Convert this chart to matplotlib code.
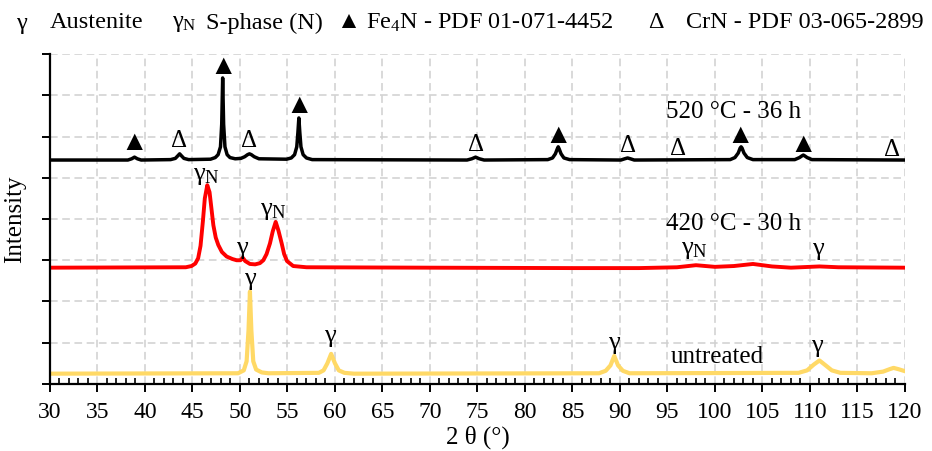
import matplotlib
matplotlib.use("Agg")
from matplotlib import pyplot as plt

plt.rcParams['font.family'] = ['Liberation Serif', 'DejaVu Serif']
plt.rcParams['mathtext.fontset'] = 'custom'
plt.rcParams['mathtext.rm'] = 'Liberation Serif'
plt.rcParams['mathtext.it'] = 'Liberation Serif:italic'

# 520 °C - 36 h (black)
x_520 = [30, 38.2, 38.6, 38.9, 39.2, 39.6, 42.7, 43.2, 43.45, 43.65, 43.85, 44.1, 44.6,
         46.9, 47.4, 47.7, 47.95, 48.08, 48.18, 48.28, 48.42, 48.65, 48.95, 49.5,
         50.1, 50.5, 50.8, 51.0, 51.2, 51.5, 52.0, 54.9, 55.4, 55.75, 55.98, 56.1,
         56.2, 56.3, 56.42, 56.65, 57.0, 57.6, 73.9, 74.4, 74.8, 75.2, 75.7, 82.4,
         82.9, 83.2, 83.4, 83.5, 83.6, 83.8, 84.1, 84.7, 90.1, 90.5, 90.8, 91.1, 91.5,
         101.6, 102.1, 102.45, 102.65, 102.75, 102.85, 103.05, 103.4, 104.0, 108.4,
         108.9, 109.15, 109.3, 109.45, 109.7, 110.2, 120]
y_520 = [5.43, 5.43, 5.46, 5.50, 5.46, 5.43, 5.44, 5.47, 5.53, 5.58, 5.53, 5.47, 5.44,
         5.45, 5.49, 5.56, 5.75, 6.3, 7.42, 6.3, 5.75, 5.56, 5.49, 5.46,
         5.47, 5.51, 5.56, 5.58, 5.56, 5.51, 5.46, 5.45, 5.48, 5.56, 5.75, 6.1,
         6.45, 6.1, 5.75, 5.56, 5.48, 5.44, 5.43, 5.46, 5.50, 5.46, 5.43, 5.44,
         5.48, 5.58, 5.70, 5.75, 5.70, 5.58, 5.48, 5.44, 5.43, 5.46, 5.48, 5.46, 5.43,
         5.44, 5.49, 5.60, 5.72, 5.75, 5.72, 5.60, 5.49, 5.44, 5.44,
         5.49, 5.53, 5.55, 5.53, 5.49, 5.44, 5.43]

# 420 °C - 30 h (red)
x_420 = [30, 44.3, 44.9, 45.3, 45.6, 45.85, 46.1, 46.3, 46.56, 46.8, 47.0, 47.2, 47.45,
         47.72, 48.1, 48.6, 49.2, 49.65, 50.05, 50.3, 50.55, 51.05, 51.6, 52.1, 52.46,
         52.8, 53.16, 53.45, 53.76, 54.05, 54.39, 54.65, 54.95, 55.6, 57, 70, 85, 92,
         96, 98.0, 100, 102, 104, 106, 108, 111, 113, 120]
y_420 = [2.82, 2.83, 2.86, 2.92, 3.05, 3.35, 3.95, 4.5, 4.82, 4.65, 4.25, 3.85, 3.55,
         3.37, 3.2, 3.09, 3.03, 3.0, 3.0, 3.06, 2.98, 2.91, 2.9, 2.93, 3.0,
         3.15, 3.41, 3.7, 3.93, 3.72, 3.41, 3.15, 2.98, 2.86, 2.83, 2.82, 2.81, 2.81,
         2.83, 2.88, 2.84, 2.86, 2.91, 2.85, 2.82, 2.85, 2.83, 2.82]

# untreated (yellow)
x_untr = [30, 49.8, 50.4, 50.7, 50.9, 51.05, 51.2, 51.4, 51.7, 52.3, 53, 58.3, 58.8,
          59.2, 59.6, 60.0, 60.4, 61.0, 62, 87.8, 88.5, 89.0, 89.4, 89.8, 90.3, 91,
          108.8, 109.7, 110.4, 111.0, 111.6, 112.3, 113.2, 116.5, 117.7, 118.4, 118.8,
          119.3, 120]
y_untr = [0.25, 0.26, 0.33, 0.55, 1.3, 2.24, 1.3, 0.55, 0.35, 0.28, 0.26, 0.27, 0.33,
          0.5, 0.73, 0.5, 0.33, 0.27, 0.25, 0.26, 0.32, 0.45, 0.68, 0.45, 0.32, 0.26,
          0.27, 0.33, 0.47, 0.57, 0.46, 0.33, 0.27, 0.26, 0.30, 0.36, 0.39,
          0.36, 0.31]

# phase markers
fe4n_x = [38.9, 48.2, 56.2, 83.5, 102.7, 109.3]
fe4n_y = [5.82, 7.68, 6.72, 5.99, 6.01, 5.79]
crn_x = [43.6, 51.0, 74.8, 90.8, 96.1, 118.6]
crn_y = [5.89, 5.89, 5.79, 5.77, 5.70, 5.67]

gamma_lbl = ['γ$_\\mathrm{N}$', 'γ$_\\mathrm{N}$', 'γ', 'γ$_\\mathrm{N}$', 'γ',
             'γ', 'γ', 'γ', 'γ']
gamma_x = [46.5, 53.5, 50.2, 97.8, 110.8, 51.05, 59.5, 89.4, 110.7]
gamma_y = [5.04, 4.19, 3.3, 3.25, 3.27, 2.55, 1.16, 0.99, 0.92]

curve_lbl = ['520 °C - 36 h', '420 °C - 30 h', 'untreated']
curve_lbl_x = [102.0, 102.0, 100.2]
curve_lbl_y = [6.6, 3.88, 0.65]

fig = plt.figure(figsize=(9.32, 4.51), dpi=100)
ax = fig.add_axes([0.0536, 0.1486, 0.9174, 0.7316])

ax.plot(x_untr, y_untr, color='#ffd966', lw=3.0, solid_joinstyle='round')
ax.plot(x_420, y_420, color='#ff0000', lw=2.8, solid_joinstyle='round')
ax.plot(x_520, y_520, color='black', lw=2.5, solid_joinstyle='round')

for x, y in zip(fe4n_x, fe4n_y):
    ax.text(x, y, '▲', ha='center', va='center', fontsize=20)
for x, y in zip(crn_x, crn_y):
    ax.text(x, y, 'Δ', ha='center', va='center', fontsize=18)
for t, x, y in zip(gamma_lbl, gamma_x, gamma_y):
    ax.text(x, y, t, ha='center', va='center', fontsize=19)
for t, x, y in zip(curve_lbl, curve_lbl_x, curve_lbl_y):
    ax.text(x, y, t, ha='center', va='center', fontsize=18)

ax.set_xlim(30, 120)
ax.set_ylim(0, 8)
ax.set_xticks(range(30, 121, 5))
ax.set_xticks(range(30, 121), minor=True)
ax.set_yticks(range(0, 9))
ax.set_yticklabels([])
ax.tick_params(axis='x', which='major', direction='out', length=6, width=1.4,
               labelsize=17, pad=7)
ax.tick_params(axis='x', which='minor', direction='in', length=4.5, width=1.2)
ax.tick_params(axis='y', which='major', direction='out', length=6, width=1.4)
ax.grid(True, which='major', color='#d0d0d0', ls=(0, (5, 3)), lw=1.1)
ax.set_axisbelow(True)
for s in ['top', 'right']:
    ax.spines[s].set_visible(False)
for s in ['left', 'bottom']:
    ax.spines[s].set_linewidth(1.6)

ax.set_xlabel('2 θ (°)', fontsize=18, labelpad=2)
ax.set_ylabel('Intensity', fontsize=18, labelpad=8)

# header legend
hdr = ['γ', 'Austenite', 'γ$_\\mathrm{N}$', 'S-phase (N)', '▲',
       'Fe$_4$N - PDF 01-071-4452', 'Δ', 'CrN - PDF 03-065-2899']
hdr_x = [16, 50, 172, 206, 336, 366, 648, 686]
for t, x in zip(hdr, hdr_x):
    fig.text(x / 932, 1 - 23 / 451, t, ha='left', va='center', fontsize=17.5)

fig.savefig('out.png', dpi=100)
